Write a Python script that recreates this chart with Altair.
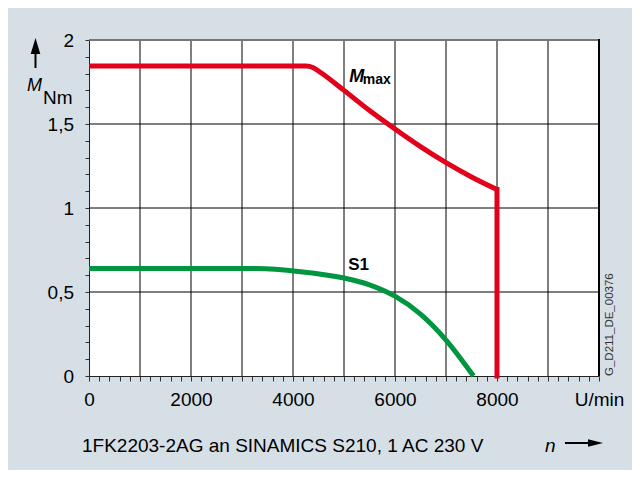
import altair as alt
import pandas as pd

# ---- data ----
mmax_speed = [0, 4250, 4400, 4550, 5000, 5500, 6000, 6500, 7000, 7500, 8000]
mmax_torque = [1.845, 1.845, 1.835, 1.805, 1.70, 1.58, 1.47, 1.365, 1.27, 1.185, 1.11]
drop_speed = [8000, 8000]
drop_torque = [1.11, 0.0]
s1_speed = [0, 3300, 4150, 5000, 5500, 6000, 6500, 7000, 7540]
s1_torque = [0.64, 0.64, 0.621, 0.583, 0.543, 0.475, 0.368, 0.214, 0.0]

x_ticks = list(range(0, 10001, 200))
y_ticks = [round(i * 0.1, 1) for i in range(21)]
x_grid = list(range(1000, 10000, 1000))
y_grid = [0.5, 1.0, 1.5]

RED = "#e2001a"
GREEN = "#009640"
BG = "#d6dfe6"
FONT = "Liberation Sans"

xs = alt.Scale(domain=[0, 10000], nice=False, zero=False)
ys = alt.Scale(domain=[0, 2], nice=False, zero=False)

x_axis = alt.Axis(
    values=x_ticks,
    labelExpr="datum.value == 10000 ? 'U/min' : (datum.value % 2000 == 0 ? format(datum.value, 'd') : '')",
    tickSize=5, labelPadding=9.6, grid=False, title=None,
    domainColor="#222222", tickColor="#333333", tickWidth=1, domainWidth=1,
    labelFont=FONT, labelFontSize=19, labelColor="#000000",
    labelOverlap=False, labelFlush=False,
)
y_axis = alt.Axis(
    values=y_ticks,
    labelExpr="abs(datum.value*2 - round(datum.value*2)) < 0.001 ? replace(format(datum.value, '~g'), '.', ',') : ''",
    tickSize=4, labelPadding=11.5, grid=False, title=None,
    domainColor="#222222", tickColor="#333333", tickWidth=1, domainWidth=1,
    labelFont=FONT, labelFontSize=19, labelColor="#000000",
    labelOverlap=False, labelFlush=False, labelBaseline="middle",
)


def X(f):
    return alt.X(f, scale=xs, axis=x_axis)


def Y(f):
    return alt.Y(f, scale=ys, axis=y_axis)


# grid lines and frame
vgrid = alt.Chart(pd.DataFrame({"x": x_grid})).mark_rule(color="#000000", strokeWidth=1).encode(
    x=X("x:Q"), y=alt.value(0), y2=alt.value(336),
)
hgrid = alt.Chart(pd.DataFrame({"y": y_grid})).mark_rule(color="#000000", strokeWidth=1).encode(
    y=Y("y:Q"), x=alt.value(0), x2=alt.value(510),
)
top_border = alt.Chart(pd.DataFrame({"y": [2.0]})).mark_rule(color="#777777", strokeWidth=2).encode(
    y=Y("y:Q"), x=alt.value(0), x2=alt.value(511),
)
right_border = alt.Chart(pd.DataFrame({"x": [10000]})).mark_rule(color="#000000", strokeWidth=2).encode(
    x=X("x:Q"), y=alt.value(-1), y2=alt.value(336),
)

s1 = alt.Chart(pd.DataFrame({"n": s1_speed, "m": s1_torque})).mark_line(
    color=GREEN, strokeWidth=5, interpolate="monotone"
).encode(x=X("n:Q"), y=Y("m:Q"))

mmax = alt.Chart(pd.DataFrame({"n": mmax_speed, "m": mmax_torque})).mark_line(
    color=RED, strokeWidth=5, interpolate="monotone"
).encode(x=X("n:Q"), y=Y("m:Q"))

drop = alt.Chart(pd.DataFrame({"n": drop_speed, "m": drop_torque})).mark_line(
    color=RED, strokeWidth=5, strokeCap="square"
).encode(x=X("n:Q"), y=Y("m:Q"))

# curve labels (data coordinates)
lab_m = alt.Chart(pd.DataFrame({"n": [5104], "m": [1.748], "t": ["M"]})).mark_text(
    font=FONT, fontSize=18, fontWeight="bold", fontStyle="italic", align="left", baseline="alphabetic", color="#000000"
).encode(x=X("n:Q"), y=Y("m:Q"), text="t:N")
lab_max = alt.Chart(pd.DataFrame({"n": [5367], "m": [1.736], "t": ["max"]})).mark_text(
    font=FONT, fontSize=14, fontWeight="bold", align="left", baseline="alphabetic", color="#000000"
).encode(x=X("n:Q"), y=Y("m:Q"), text="t:N")
lab_s1 = alt.Chart(pd.DataFrame({"n": [5084], "m": [0.631], "t": ["S1"]})).mark_text(
    font=FONT, fontSize=17, fontWeight="bold", align="left", baseline="alphabetic", color="#000000"
).encode(x=X("n:Q"), y=Y("m:Q"), text="t:N")

# axis titles and arrows (pixel positions relative to plot area)
one = pd.DataFrame({"a": [0]})
y_arrow_line = alt.Chart(one).mark_rule(color="#000000", strokeWidth=2).encode(
    x=alt.value(-53.5), y=alt.value(10), y2=alt.value(28))
y_arrow_head = alt.Chart(one).mark_point(
    shape="M0,-1L0.6,1L-0.6,1Z", filled=True, color="#000000", opacity=1, size=256, strokeWidth=0
).encode(x=alt.value(-53.5), y=alt.value(6))
y_title_m = alt.Chart(one).mark_text(
    text="M", font=FONT, fontSize=18, fontStyle="italic", align="left", baseline="alphabetic", color="#000000"
).encode(x=alt.value(-62), y=alt.value(51))
y_title_nm = alt.Chart(one).mark_text(
    text="Nm", font=FONT, fontSize=19, align="left", baseline="alphabetic", color="#000000"
).encode(x=alt.value(-46), y=alt.value(64))

caption = alt.Chart(one).mark_text(
    text="1FK2203-2AG an SINAMICS S210, 1 AC 230 V", font=FONT, fontSize=19,
    align="left", baseline="alphabetic", color="#000000"
).encode(x=alt.value(-7), y=alt.value(412))
n_title = alt.Chart(one).mark_text(
    text="n", font=FONT, fontSize=19, fontStyle="italic", align="left", baseline="alphabetic", color="#000000"
).encode(x=alt.value(456), y=alt.value(412))
x_arrow_line = alt.Chart(one).mark_rule(color="#000000", strokeWidth=2).encode(
    x=alt.value(476), x2=alt.value(500), y=alt.value(403))
x_arrow_head = alt.Chart(one).mark_point(
    shape="M1,0L-1,-0.5L-1,0.5Z", filled=True, color="#000000", opacity=1, size=225, strokeWidth=0
).encode(x=alt.value(506.5), y=alt.value(403))

code = alt.Chart(one).mark_text(
    text="G_D211_DE_00376", font=FONT, fontSize=11.5, angle=270, align="left", baseline="middle", color="#333333"
).encode(x=alt.value(521), y=alt.value(336))

chart = alt.layer(
    vgrid, hgrid, top_border, right_border, s1, mmax, drop,
    lab_m, lab_max, lab_s1,
    y_arrow_line, y_arrow_head, y_title_m, y_title_nm,
    caption, n_title, x_arrow_line, x_arrow_head, code,
).properties(
    width=510, height=336,
    padding={"left": 81, "top": 32, "right": 33, "bottom": 94},
    autosize=alt.AutoSizeParams(type="none"),
).configure(background=BG).configure_view(fill="white", strokeWidth=0)

chart.save("out.html", embed_options={"renderer": "svg", "actions": False})
